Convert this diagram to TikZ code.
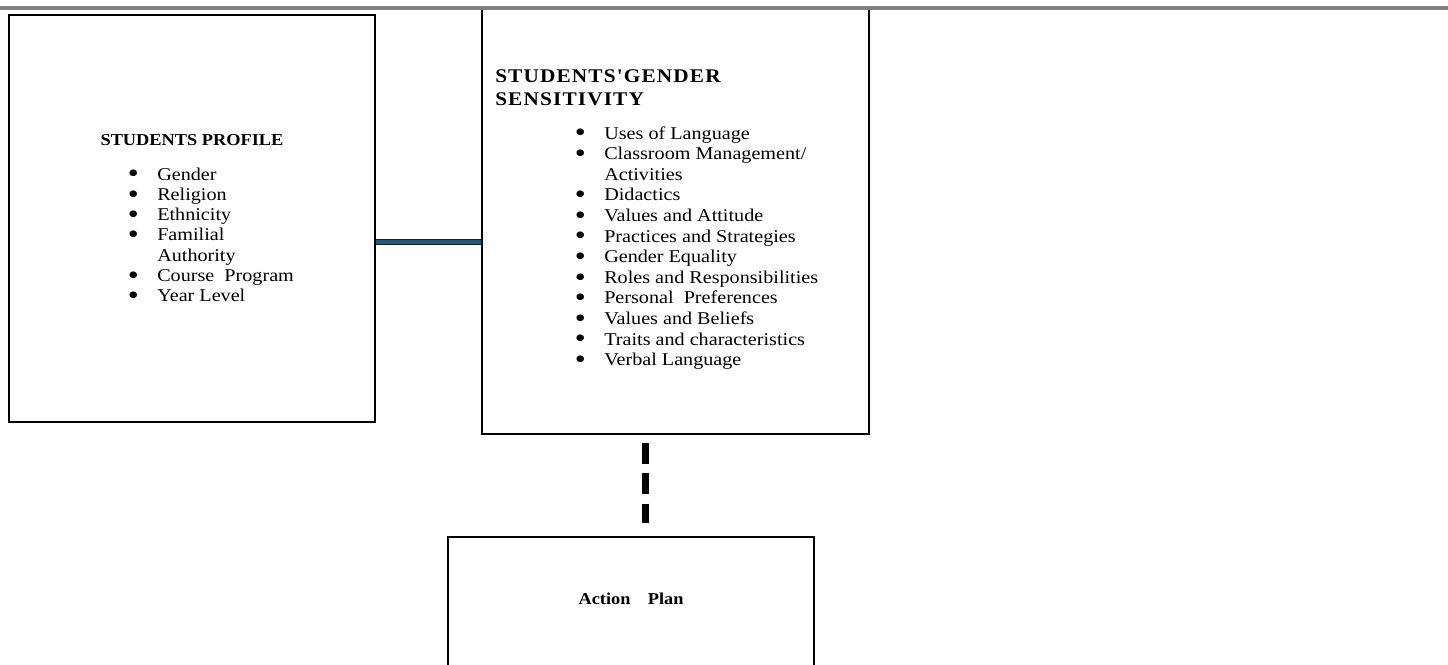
\documentclass[tikz,border=0pt]{standalone}
\usepackage{fontspec}
\usepackage{graphicx}
\setmainfont{Liberation Serif}
\newfontfamily\bodyf[FakeStretch=1.12]{Liberation Serif}
\newfontfamily\headf[FakeStretch=1.1]{Liberation Serif}
\newfontfamily\headsp[FakeStretch=1.1,LetterSpace=6]{Liberation Serif}
\definecolor{rulegray}{RGB}{128,128,128}
\definecolor{conncol}{RGB}{28,92,122}
\definecolor{connedge}{RGB}{25,35,42}
\newcommand{\mybul}{\raisebox{-2.2pt}[0pt][0pt]{\scalebox{1.55}{\textbullet}}}
\newcommand{\myitem}[1]{\hbox{\hbox to 21pt{\hskip-1pt\mybul\hfil}#1}}
\newcommand{\mycont}[1]{\hbox{\hskip21pt #1}}
\begin{document}
\begin{tikzpicture}[x=0.75pt,y=-0.75pt,
  boxst/.style={draw=black, line width=1.3pt, inner sep=0pt, anchor=north west},
  listtxt/.style={anchor=base west, inner sep=0pt, font=\bodyf\fontsize{13.5}{15.2}\selectfont},
  ttl/.style={inner sep=0pt, font=\headf\bfseries\fontsize{12.5}{15}\selectfont},
  ttlsp/.style={inner sep=0pt, anchor=base west, font=\headsp\bfseries\fontsize{14.5}{17}\selectfont},
  linkst/.style={draw=connedge, line width=0.75pt, double=conncol, double distance=3pt},
  dashst/.style={draw=black, line width=5.25pt, dash pattern=on 15.75pt off 7.1pt}
]
\clip (0,0) rectangle (1448,664);
\fill[white] (0,0) rectangle (1448,664);

% boxes
\node[boxst, minimum width=274.5pt, minimum height=305.25pt] (prof) at (8,14) {};
\node[boxst, minimum width=290.25pt, minimum height=318.75pt] (sens) at (481,8) {};
\node[boxst, minimum width=274.5pt, minimum height=120pt] (act) at (447,536) {};

% top rule
\draw[rulegray, line width=3pt] (0,8) -- (1448,8);

% left box text
\node[ttl, anchor=base] (proft) at (192,145) {STUDENTS PROFILE};
\node[listtxt] (profl) at (129,180) {\vtop{\baselineskip=15.2pt
  \myitem{Gender}
  \myitem{Religion}
  \myitem{Ethnicity}
  \myitem{Familial}
  \mycont{Authority}
  \myitem{Course\ \ Program}
  \myitem{Year Level}}};

% middle box text
\node[ttlsp] (senst) at (495,82) {\vtop{\baselineskip=17.25pt
  \hbox{STUDENTS'GENDER}
  \hbox{SENSITIVITY}}};
\node[listtxt] (sensl) at (576,139) {\vtop{\baselineskip=15.45pt
  \myitem{Uses of Language}
  \myitem{Classroom Management/}
  \mycont{Activities}
  \myitem{Didactics}
  \myitem{Values and Attitude}
  \myitem{Practices and Strategies}
  \myitem{Gender Equality}
  \myitem{Roles and Responsibilities}
  \myitem{Personal\ \ Preferences}
  \myitem{Values and Beliefs}
  \myitem{Traits and characteristics}
  \myitem{Verbal Language}}};

% bottom box text
\node[ttl, anchor=base] (actt) at (631,604) {Action\hspace{13pt}Plan};

% connectors
\coordinate (cy) at (0,242.3);
\coordinate (dx) at (645.5,0);
\draw[linkst] (prof.east |- cy) -- (sens.west |- cy);
\draw[dashst] ([yshift=-6pt]sens.south -| dx) -- ([yshift=9.75pt]act.north -| dx);
\end{tikzpicture}
\end{document}
